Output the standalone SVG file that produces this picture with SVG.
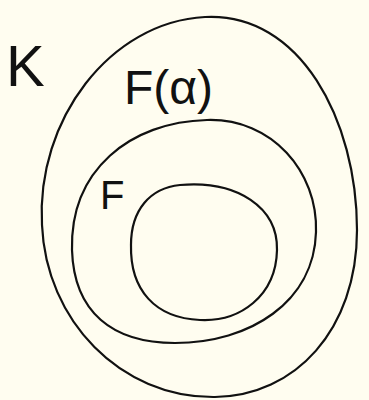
<svg xmlns="http://www.w3.org/2000/svg" width="369" height="400" viewBox="0 0 369 400">
<style>
.c{fill:none;stroke:#111;stroke-width:2.2;stroke-linecap:round}
.t{font-family:"Liberation Sans",Arial,sans-serif;fill:#111;font-weight:normal}
</style>
<rect width="369" height="400" fill="#FFFDF0"/>
<g id="connectors"></g>
<g id="K">
<path class="c" d="M 205,17 C 300,12 357,120 357,230 C 357,330 295,396 215,397 C 120,398 46,320 42,225 C 36,120 110,22 205,17 Z"/>
<text class="t" x="6" y="86" font-size="58">K</text>
</g>
<g id="Falpha">
<path class="c" d="M 207,120 C 272,118 318,172 316,232 C 314,302 250,343 175,343 C 112,343 74,312 72,250 C 70,170 130,122 207,120 Z"/>
<text class="t" x="124" y="104" font-size="48">F(α)</text>
</g>
<g id="F">
<path class="c" d="M 180,185 C 238,180 278,208 277,250 C 276,296 240,322 200,320 C 155,318 130,290 131,245 C 131,210 150,188 180,185 Z"/>
<text class="t" x="100" y="209" font-size="40">F</text>
</g>
</svg>
